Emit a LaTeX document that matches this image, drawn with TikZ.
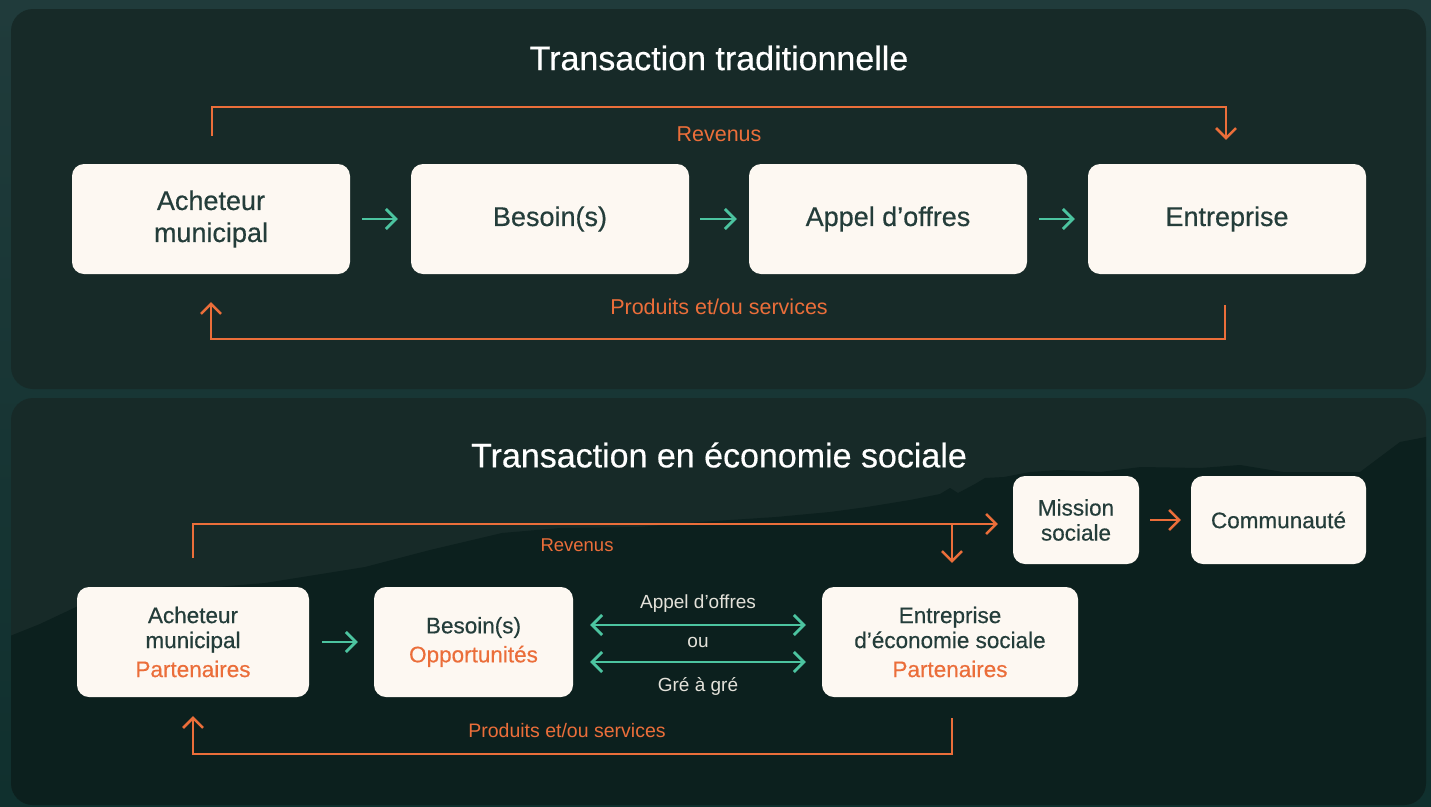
\documentclass[tikz,border=0pt]{standalone}
\usepackage{fontspec}
\setmainfont{Liberation Sans}
\newfontfamily\medfont[FakeBold=0.45]{Liberation Sans}
\usetikzlibrary{arrows.meta,calc}
\definecolor{outerbg}{HTML}{203B3B}
\definecolor{outerbgb}{HTML}{10302E}
\definecolor{panel}{HTML}{172A28}
\definecolor{mount}{HTML}{0C201E}
\definecolor{boxfill}{HTML}{FDF8F2}
\definecolor{boxtext}{HTML}{243D3A}
\definecolor{orng}{HTML}{EB6E3A}
\definecolor{grn}{HTML}{4CC4A0}
\definecolor{lite}{HTML}{E4E2DA}
\begin{document}
\begin{tikzpicture}[x=1pt,y=-1pt,
  box/.style={fill=boxfill, draw=none, rounded corners=12pt, align=center, text=boxtext, inner sep=0pt},
  topbox/.style={box, minimum width=278pt, minimum height=110pt, font=\medfont\fontsize{27}{32}\selectfont},
  botbox/.style={box, minimum height=110pt, font=\medfont\fontsize{22.5}{25}\selectfont},
  smallbox/.style={box, minimum height=88pt, font=\medfont\fontsize{22.5}{25}\selectfont},
  chev/.tip={Straight Barb[length=10pt,width=20pt]},
  oline/.style={draw=orng, line width=2.5pt, -chev},
  gline/.style={draw=grn, line width=2.8pt, -chev},
  gboth/.style={draw=grn, line width=2.8pt, chev-chev},
  title/.style={text=white, font=\medfont\fontsize{34}{40}\selectfont},
  olabel/.style={text=orng},
  llabel/.style={text=lite, font=\fontsize{19}{22}\selectfont}
]
\useasboundingbox (0,0) rectangle (1431,806);
\shade[top color=outerbg, bottom color=outerbgb] (0,0) rectangle (1431,806);
% panels
\fill[panel, rounded corners=22pt] (11,9) rectangle (1426,389);
\fill[panel, rounded corners=22pt] (11,398) rectangle (1426,805);
\begin{scope}
  \clip[rounded corners=22pt] (11,398) rectangle (1426,805);
  \fill[mount] (0,640) -- (40,624) -- (91,600) -- (180,590) -- (265,583) -- (365,567) -- (430,550)
    -- (502,533) -- (560,528) -- (639,527) -- (700,522) -- (776,517) -- (830,512) -- (867,507)
    -- (910,500) -- (940,494) -- (950,488) -- (958,493) -- (975,484) -- (985,478) -- (1004,477)
    -- (1030,472) -- (1060,470) -- (1100,472) -- (1141,467) -- (1200,468)
    -- (1240,465) -- (1283,472) -- (1360,472) -- (1400,442) -- (1431,436) -- (1431,806) -- (0,806) -- cycle;
\end{scope}

% ---------- top panel ----------
\node[title] (t1) at (719,58) {Transaction traditionnelle};
\node[topbox] (a1) at (211,219) {Acheteur\\municipal};
\node[topbox] (a2) at (550,219) {Besoin(s)};
\node[topbox] (a3) at (888,219) {Appel d’offres};
\node[topbox] (a4) at (1227,219) {Entreprise};

\draw[gline, shorten <=12pt, shorten >=13pt] (a1.east) -- (a2.west);
\draw[gline, shorten <=11pt, shorten >=12pt] (a2.east) -- (a3.west);
\draw[gline, shorten <=12pt, shorten >=13pt] (a3.east) -- (a4.west);

\draw[oline] ($(a1.north)+(1,-28)$) -- ++(0,-29) -| ($(a4.north)+(-1,-24)$);
\draw[oline] ($(a4.south)+(-2,31)$) -- ++(0,34) -| ($(a1.south)+(0,28)$);
\node[olabel, font=\fontsize{21.5}{24}\selectfont] (rev1) at (719,134) {Revenus};
\node[olabel, font=\fontsize{21.5}{24}\selectfont] (prod1) at (719,307) {Produits et/ou services};

% ---------- bottom panel ----------
\node[title] (t2) at (719,455) {Transaction en économie sociale};
\node[botbox, minimum width=232pt] (b1) at (193,642) {Acheteur\\municipal\\[4pt]{\color{orng}Partenaires}};
\node[botbox, minimum width=199pt] (b2) at (473.5,642) {Besoin(s)\\[4pt]{\color{orng}Opportunités}};
\node[botbox, minimum width=256pt] (b3) at (950,642) {Entreprise\\d’économie sociale\\[4pt]{\color{orng}Partenaires}};
\node[smallbox, minimum width=126pt] (b4) at (1076,520) {Mission\\sociale};
\node[smallbox, minimum width=175pt] (b5) at (1278.5,520) {Communauté};

\draw[gline, shorten <=13pt, shorten >=16pt] (b1.east) -- (b2.west);
\draw[gboth, shorten <=17pt, shorten >=16pt] ($(b2.east)+(0,-17)$) -- ($(b3.west)+(0,-17)$);
\draw[gboth, shorten <=17pt, shorten >=16pt] ($(b2.east)+(0,20)$) -- ($(b3.west)+(0,20)$);
\node[llabel] (l1) at (698,604) {Appel d’offres};
\node[llabel] (l2) at (698,642) {ou};
\node[llabel] (l3) at (698,686) {Gré à gré};

\draw[oline] ($(b1.north)+(0,-29)$) |- ($(b4.west)+(-15,4)$);
\coordinate (br) at ($(b3.north)+(2,-63)$);
\draw[oline] (br) -- ($(b3.north)+(2,-24)$);
\draw[oline, shorten <=11pt, shorten >=10pt] (b4.east) -- (b5.west);
\draw[oline] ($(b3.south)+(2,21)$) -- ++(0,36) -| ($(b1.south)+(0,19)$);
\node[olabel, font=\fontsize{18.5}{22}\selectfont] (rev2) at (577,545) {Revenus};
\node[olabel, font=\fontsize{19.5}{22}\selectfont] (prod2) at (567,731) {Produits et/ou services};
\end{tikzpicture}
\end{document}
